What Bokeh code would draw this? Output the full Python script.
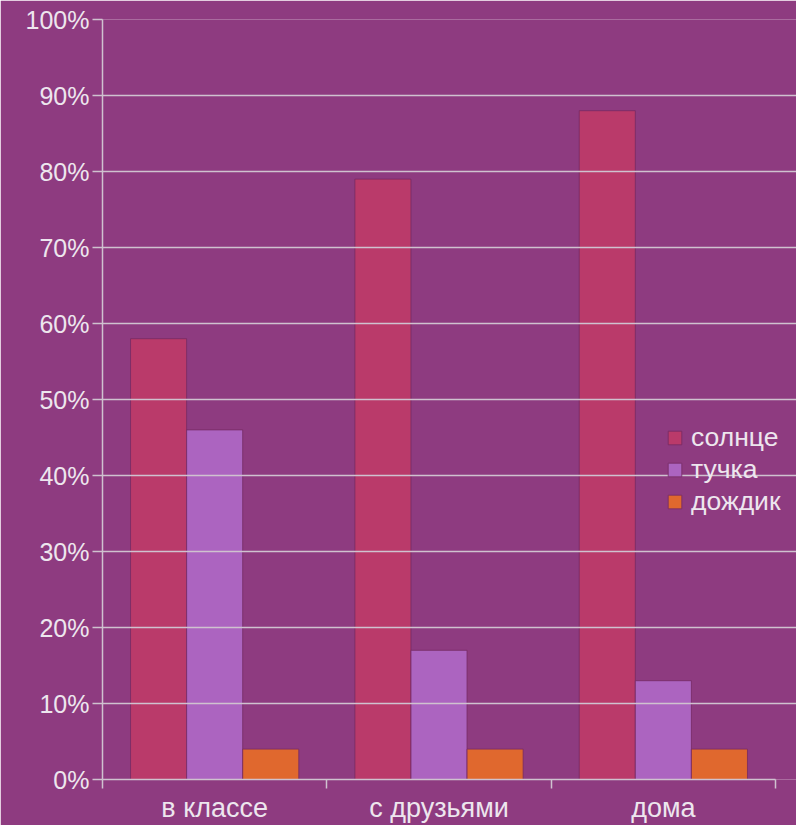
from bokeh.plotting import figure
from bokeh.models import (ColumnDataSource, Range1d, FixedTicker, PrintfTickFormatter,
                          Legend, LegendItem)
from bokeh.transform import dodge
from bokeh.embed import file_html
from bokeh.resources import INLINE

# ---- data ----
categories = ["в классе", "с друзьями", "дома"]
series_names = ["солнце", "тучка", "дождик"]
solnce = [58, 79, 88]
tuchka = [46, 17, 13]
dozhdik = [4, 4, 4]
y_ticks = [0, 10, 20, 30, 40, 50, 60, 70, 80, 90, 100]

colors = ["#BA3A6A", "#AC64C0", "#E0682E"]
BG = "#8E3B80"
TXT = "#EDE6EE"
GRID = "#CFC2CF"
FONT = "Liberation Sans"

n_cat = len(categories)
centers = [i + 0.5 for i in range(n_cat)]
source = ColumnDataSource(dict(x=centers, solnce=solnce, tuchka=tuchka, dozhdik=dozhdik))

# plot area: 673 px hold the 3 categories; the frame is widened to the right
# so the legend text is not clipped, while grid and axis stop at the last category
FRAME_W = 694
x_end = n_cat * FRAME_W / 673.0

p = figure(frame_width=FRAME_W, frame_height=760, output_backend="svg", toolbar_location=None,
           x_range=Range1d(0, x_end), y_range=Range1d(0, 100),
           min_border_left=102, min_border_right=0, min_border_top=19, min_border_bottom=46)
p.background_fill_color = BG
p.border_fill_color = BG
p.outline_line_color = None

renderers = []
for name, col, off, c in zip(series_names, ["solnce", "tuchka", "dozhdik"], [-0.25, 0.0, 0.25], colors):
    r = p.vbar(x=dodge("x", off), top=col, bottom=0, width=0.25, source=source,
               fill_color=c, line_color="#762A63", line_width=1, line_alpha=0.8)
    renderers.append((name, r))

# y axis
p.yaxis.ticker = FixedTicker(ticks=y_ticks)
p.yaxis.formatter = PrintfTickFormatter(format="%d%%")
p.yaxis.major_tick_out = 10
p.yaxis.major_tick_in = 0
p.yaxis.minor_tick_line_color = None
p.yaxis.major_label_standoff = 3
p.yaxis.axis_line_color = GRID
p.yaxis.axis_line_width = 1.5
p.yaxis.major_tick_line_color = GRID
p.yaxis.major_tick_line_width = 1.5
p.yaxis.major_label_text_color = TXT
p.yaxis.major_label_text_font = FONT
p.yaxis.major_label_text_font_size = "25px"

# x axis
p.xaxis.ticker = FixedTicker(ticks=centers, minor_ticks=list(range(n_cat + 1)))
p.xaxis.major_label_overrides = {c: lab for c, lab in zip(centers, categories)}
p.xaxis.bounds = (0, n_cat)
p.xaxis.major_tick_line_color = None
p.xaxis.major_tick_out = 0
p.xaxis.major_tick_in = 0
p.xaxis.minor_tick_out = 9
p.xaxis.minor_tick_in = 0
p.xaxis.minor_tick_line_color = GRID
p.xaxis.minor_tick_line_width = 1.5
p.xaxis.axis_line_color = GRID
p.xaxis.axis_line_width = 1.5
p.xaxis.major_label_standoff = 4
p.xaxis.major_label_text_color = TXT
p.xaxis.major_label_text_font = FONT
p.xaxis.major_label_text_font_size = "27px"

p.xgrid.grid_line_color = None
p.ygrid.grid_line_color = GRID
p.ygrid.grid_line_width = 1.5
p.ygrid.bounds = (0, n_cat)
p.ygrid.level = "overlay"

legend = Legend(items=[LegendItem(label=n, renderers=[r]) for n, r in renderers],
                location=(564, 262), orientation="vertical",
                background_fill_alpha=0, border_line_color=None,
                padding=0, margin=0, spacing=1,
                glyph_width=17, glyph_height=17, label_standoff=8,
                label_text_color=TXT, label_text_font=FONT, label_text_font_size="26.5px")
p.add_layout(legend)

open("out.html", "w").write(file_html(p, INLINE))
